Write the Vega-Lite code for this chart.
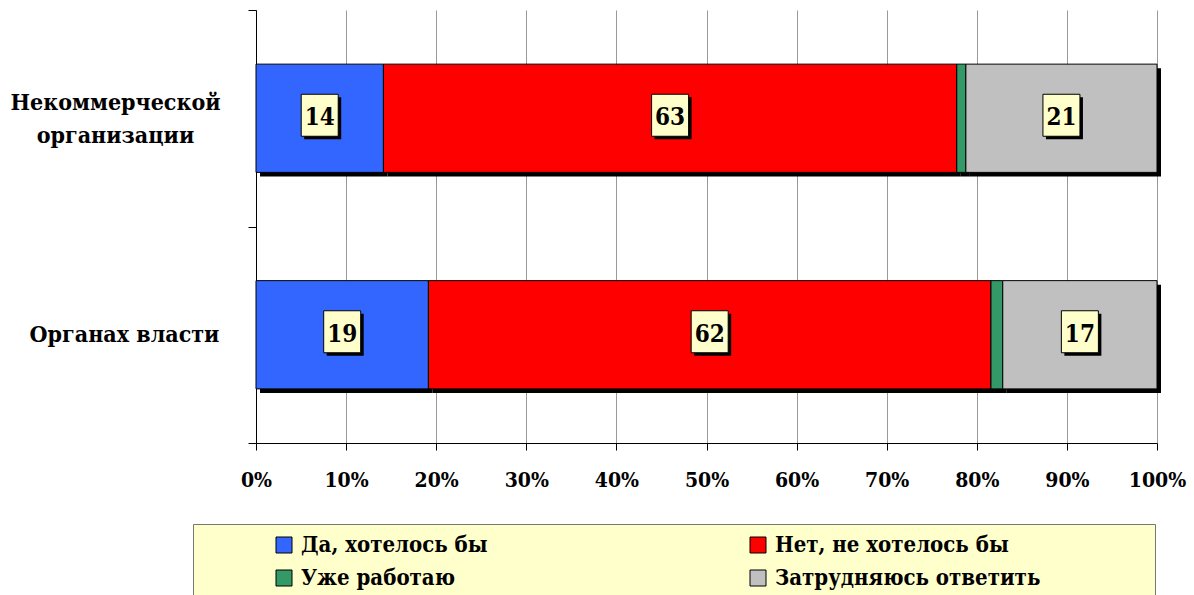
{
  "$schema": "https://vega.github.io/schema/vega-lite/v6.json",
  "width": 901,
  "height": 433,
  "autosize": {"type": "none"},
  "padding": {"left": 256, "top": 10, "right": 37, "bottom": 152},
  "background": "white",
  "config": {"view": {"stroke": null}, "font": "DejaVu Serif Condensed, DejaVu Serif"},
  "data": {
    "values": [
      {"category": "Некоммерческой организации", "response": "Да, хотелось бы", "value": 14},
      {"category": "Некоммерческой организации", "response": "Нет, не хотелось бы", "value": 63},
      {"category": "Некоммерческой организации", "response": "Уже работаю", "value": 1},
      {"category": "Некоммерческой организации", "response": "Затрудняюсь ответить", "value": 21},
      {"category": "Органах власти", "response": "Да, хотелось бы", "value": 19},
      {"category": "Органах власти", "response": "Нет, не хотелось бы", "value": 62},
      {"category": "Органах власти", "response": "Уже работаю", "value": 1.3},
      {"category": "Органах власти", "response": "Затрудняюсь ответить", "value": 17}
    ]
  },
  "transform": [
    {"calculate": "datum.response == 'Да, хотелось бы' ? 0 : datum.response == 'Нет, не хотелось бы' ? 1 : datum.response == 'Уже работаю' ? 2 : 3", "as": "ord"},
    {"stack": "value", "groupby": ["category"], "sort": [{"field": "ord", "order": "ascending"}], "offset": "normalize", "as": ["v0", "v1"]},
    {"calculate": "(datum.v0 + datum.v1) / 2", "as": "mid"}
  ],
  "layer": [
    {
      "mark": {"type": "bar", "color": "black", "xOffset": 4, "x2Offset": 4, "yOffset": 4, "height": {"band": 0.5}},
      "encoding": {
        "x": {"field": "v0", "type": "quantitative", "scale": {"domain": [0, 1]}, "axis": {
          "values": [0, 0.1, 0.2, 0.3, 0.4, 0.5, 0.6, 0.7, 0.8, 0.9, 1],
          "format": "%", "title": null, "grid": true, "gridColor": "#999999", "gridWidth": 1,
          "domainColor": "black", "domainWidth": 1, "tickColor": "black", "tickSize": 7,
          "labelFont": "DejaVu Serif Condensed, DejaVu Serif", "labelFontSize": 21, "labelFontWeight": "bold", "labelColor": "black",
          "labelPadding": 19, "labelFlush": false
        }},
        "x2": {"field": "v1"},
        "y": {"field": "category", "type": "nominal", "scale": {"domain": ["Некоммерческой организации", "Органах власти"], "paddingInner": 0, "paddingOuter": 0}, "axis": {
          "title": null, "tickBand": "extent", "tickSize": 8, "tickColor": "black", "domainColor": "black",
          "labelFont": "DejaVu Serif Condensed, DejaVu Serif", "labelFontSize": 23, "labelFontWeight": "bold", "labelColor": "black",
          "labelAlign": "center", "labelBaseline": "middle", "labelLineHeight": 33, "labelLimit": 0,
          "labelPadding": {"condition": {"test": "datum.value == 'Органах власти'", "value": 124}, "value": 133},
          "labelOffset": {"condition": {"test": "datum.value == 'Некоммерческой организации'", "value": -16}, "value": 0},
          "labelExpr": "datum.value == 'Некоммерческой организации' ? ['Некоммерческой', 'организации'] : datum.label"
        }}
      }
    },
    {
      "mark": {"type": "bar", "stroke": "black", "strokeWidth": 1, "height": {"band": 0.5}},
      "encoding": {
        "x": {"field": "v0", "type": "quantitative"},
        "x2": {"field": "v1"},
        "y": {"field": "category", "type": "nominal"},
        "color": {"field": "response", "type": "nominal",
          "scale": {"domain": ["Да, хотелось бы", "Нет, не хотелось бы", "Уже работаю", "Затрудняюсь ответить"], "range": ["#3366FF", "#FF0000", "#339966", "#C0C0C0"]},
          "legend": {
            "orient": "none", "legendX": -63, "legendY": 514, "columns": 2, "direction": "horizontal",
            "title": " ", "titleOrient": "right", "titlePadding": 105, "titleFontSize": 22,
            "fillColor": "#FFFFCC", "strokeColor": "#777777", "padding": 10,
            "symbolType": "square", "symbolSize": 256, "symbolStrokeColor": "black", "symbolStrokeWidth": 1, "symbolOpacity": 1,
            "symbolOffset": 70, "labelOffset": 6,
            "labelFont": "DejaVu Serif Condensed, DejaVu Serif", "labelFontSize": 22, "labelFontWeight": "bold", "labelColor": "black", "labelLimit": 0,
            "columnPadding": 189, "rowPadding": 11
          }
        }
      }
    },
    {
      "transform": [{"filter": "datum.response != 'Уже работаю'"}],
      "mark": {"type": "point", "filled": true, "color": "black", "opacity": 1, "size": 1764, "shape": "M-0.881,-1L0.881,-1L0.881,1L-0.881,1Z", "xOffset": 3, "yOffset": 0},
      "encoding": {
        "x": {"field": "mid", "type": "quantitative"},
        "y": {"field": "category", "type": "nominal"}
      }
    },
    {
      "transform": [{"filter": "datum.response != 'Уже работаю'"}],
      "mark": {"type": "point", "filled": true, "fill": "#FFFFCC", "stroke": "black", "strokeWidth": 1, "opacity": 1, "size": 1764, "shape": "M-0.881,-1L0.881,-1L0.881,1L-0.881,1Z", "yOffset": -3},
      "encoding": {
        "x": {"field": "mid", "type": "quantitative"},
        "y": {"field": "category", "type": "nominal"}
      }
    },
    {
      "transform": [{"filter": "datum.response != 'Уже работаю'"}],
      "mark": {"type": "text", "font": "DejaVu Serif Condensed, DejaVu Serif", "fontSize": 24, "fontWeight": "bold", "color": "black", "baseline": "middle", "align": "center"},
      "encoding": {
        "x": {"field": "mid", "type": "quantitative"},
        "y": {"field": "category", "type": "nominal"},
        "text": {"field": "value", "type": "quantitative", "format": "d"}
      }
    }
  ]
}
